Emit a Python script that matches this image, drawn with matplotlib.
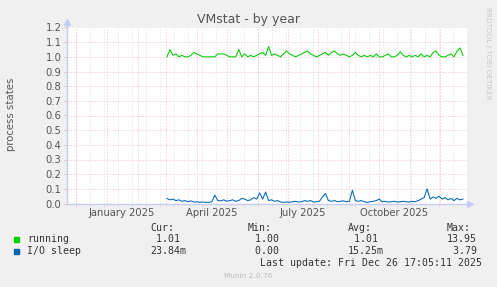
import numpy as np
import pandas as pd
import matplotlib
matplotlib.use("Agg")
import matplotlib.pyplot as plt

W, H = 497, 287

# data (daily-ish samples, every 3 days)
first_day = "2025-03-02"
step = "3D"
running = [1.00, 1.05, 1.01, 1.02, 1.00, 1.01, 1.00, 1.00, 1.01, 1.03,
           1.02, 1.01, 1.00, 1.00, 1.00, 1.00, 1.00, 1.02, 1.02, 1.02,
           1.01, 1.00, 1.00, 1.00, 1.05, 1.00, 1.02, 1.00, 1.01, 1.00,
           1.01, 1.02, 1.03, 1.01, 1.07, 1.01, 1.02, 1.01, 1.00, 1.02,
           1.04, 1.02, 1.01, 1.00, 1.01, 1.02, 1.03, 1.04, 1.02, 1.01,
           1.00, 1.01, 1.02, 1.03, 1.01, 1.03, 1.04, 1.02, 1.01, 1.02,
           1.01, 1.00, 1.01, 1.03, 1.01, 1.00, 1.01, 1.00, 1.01, 1.00,
           1.02, 1.00, 1.00, 1.01, 1.02, 1.00, 1.00, 1.01, 1.035, 1.01,
           1.00, 1.01, 1.00, 1.01, 1.00, 1.02, 1.00, 1.01, 1.00, 1.03,
           1.04, 1.01, 1.00, 1.00, 1.01, 1.02, 1.00, 1.04, 1.06, 1.01]
io_sleep = [0.034, 0.025, 0.030, 0.020, 0.025, 0.015, 0.020, 0.012, 0.018, 0.010,
            0.012, 0.008, 0.010, 0.008, 0.008, 0.012, 0.057, 0.020, 0.018, 0.025,
            0.015, 0.020, 0.025, 0.015, 0.020, 0.035, 0.030, 0.020, 0.025, 0.040,
            0.030, 0.072, 0.030, 0.078, 0.020, 0.025, 0.015, 0.020, 0.010, 0.008,
            0.010, 0.008, 0.012, 0.015, 0.010, 0.012, 0.020, 0.015, 0.020, 0.010,
            0.012, 0.015, 0.045, 0.068, 0.020, 0.015, 0.020, 0.012, 0.015, 0.018,
            0.012, 0.015, 0.090, 0.020, 0.015, 0.020, 0.012, 0.008, 0.012, 0.015,
            0.020, 0.030, 0.012, 0.015, 0.010, 0.012, 0.015, 0.010, 0.012, 0.015,
            0.012, 0.010, 0.015, 0.012, 0.020, 0.030, 0.040, 0.100, 0.030, 0.045,
            0.035, 0.050, 0.030, 0.040, 0.025, 0.035, 0.020, 0.035, 0.025, 0.030]
series_names = ["running", "I/O sleep"]
series_colors = ["#00CC00", "#0066B3"]
cur_vals = [" 1.01", "23.84m"]
min_vals = [" 1.00", " 0.00"]
avg_vals = [" 1.01", "15.25m"]
max_vals = ["13.95", " 3.79"]
month_labels = ["January 2025", "April 2025", "July 2025", "October 2025"]
label_months = ["2025-01-01", "2025-04-01", "2025-07-01", "2025-10-01"]
last_update = "Fri Dec 26 17:05:11 2025"
end_time = pd.Timestamp("2025-12-26 17:05:11")

dates = pd.date_range(first_day, periods=len(running), freq=step)

fig = plt.figure(figsize=(W / 100, H / 100), dpi=100, facecolor="#F0F0F0")
ax = fig.add_axes([67 / W, 1 - 203.5 / H, 400 / W, 176 / H])
ax.set_facecolor("white")

start_time = end_time - pd.Timedelta(days=400)
ax.set_xlim(start_time, end_time)
ax.set_ylim(0, 1.2)

major_c = "#EBB0B0"
minor_c = "#DADADA"
dot = (0, (1.2, 2.4))
for d in pd.date_range("2024-12-01", "2025-12-31", freq="14D"):
    ax.axvline(d, color=minor_c, lw=0.6, ls=dot, zorder=1)
for d in pd.date_range("2024-12-01", "2025-12-01", freq="MS"):
    ax.axvline(d, color=major_c, lw=0.6, ls=dot, zorder=1)
for yv in np.arange(0.1, 1.21, 0.1):
    ax.axhline(yv, color=major_c, lw=0.6, ls=dot, zorder=1)

ax.plot(dates, running, color=series_colors[0], lw=0.75, zorder=3)
ax.plot(dates, io_sleep, color=series_colors[1], lw=0.75, zorder=3)

for s in ["top", "right"]:
    ax.spines[s].set_visible(False)
axis_c = "#C8CCF2"
for s in ["left", "bottom"]:
    ax.spines[s].set_color(axis_c)
    ax.spines[s].set_linewidth(1)
ax.plot([0, 0], [1, 1.03], color=axis_c, lw=1, transform=ax.transAxes, clip_on=False)
ax.plot([0], [1.03], marker="^", ms=4, color=axis_c, transform=ax.transAxes, clip_on=False)
ax.plot([1, 1.008], [0, 0], color=axis_c, lw=1, transform=ax.transAxes, clip_on=False)
ax.plot([1.008], [0], marker=">", ms=4, color=axis_c, transform=ax.transAxes, clip_on=False)

ax.set_yticks(np.arange(0, 1.21, 0.1))
ax.set_yticklabels([f"{v:.1f}" for v in np.arange(0, 1.21, 0.1)])
ax.tick_params(axis="y", length=2, width=0.6, color=major_c, labelsize=7.2,
               labelcolor="#555555", pad=2)
ax.set_xticks(pd.date_range("2024-12-01", "2025-12-31", freq="14D"))
ax.set_xticklabels([])
ax.tick_params(axis="x", length=2, width=0.6, color=minor_c)

for lab, m in zip(month_labels, label_months):
    ax.text(pd.Timestamp(m) + pd.Timedelta(days=15), -0.055, lab,
            transform=ax.get_xaxis_transform(), ha="center", va="center",
            fontsize=7.2, color="#555555")


def px(x, y):
    return x / W, 1 - y / H


fig.text(*px(249, 19), "VMstat - by year", ha="center", va="center",
         fontsize=9, color="#555555")
fig.text(*px(11, 114), "process states", ha="center", va="center",
         rotation=90, fontsize=7.3, color="#555555")
fig.text(*px(488, 53), "RRDTOOL / TOBI OETIKER", ha="center", va="center",
         rotation=-90, fontsize=5.2, color="#C8C8C8")

mono = dict(family="DejaVu Sans Mono", fontsize=7.1, color="#333333", va="center")
fig.text(*px(150, 228), "Cur:", **mono)
fig.text(*px(248, 228), "Min:", **mono)
fig.text(*px(348, 228), "Avg:", **mono)
fig.text(*px(447, 228), "Max:", **mono)
rows_y = [239.5, 251]
for i in range(2):
    y = rows_y[i]
    fig.patches.append(plt.Rectangle(px(14, y + 2.5), 5 / W, 5 / H,
                                     transform=fig.transFigure,
                                     color=series_colors[i], figure=fig))
    fig.text(*px(27, y), series_names[i], **mono)
    fig.text(*px(150, y), cur_vals[i], **mono)
    fig.text(*px(249, y), min_vals[i], **mono)
    fig.text(*px(348, y), avg_vals[i], **mono)
    fig.text(*px(447, y), max_vals[i], **mono)
fig.text(*px(482, 263), "Last update: " + last_update, ha="right", **mono)
fig.text(*px(248, 276.5), "Munin 2.0.76", ha="center", va="center",
         fontsize=5.3, color="#BBBBBB")

fig.savefig("out.png", dpi=100, facecolor=fig.get_facecolor())
